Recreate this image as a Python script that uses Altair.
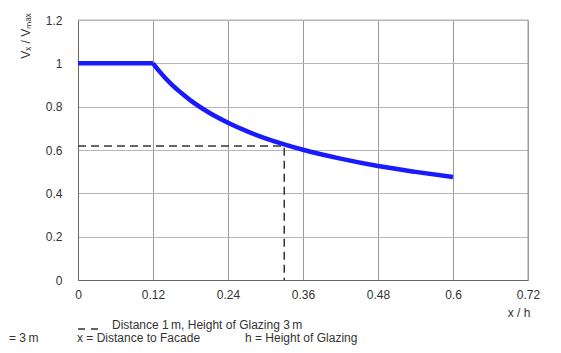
import altair as alt
import pandas as pd

# Flat part of the curve
flat_x = [0.0, 0.12]
flat_y = [1.0, 1.0]

# Decreasing part of the curve
dec_x = [0.12, 0.13, 0.14, 0.15, 0.165, 0.18, 0.21, 0.24, 0.27, 0.30, 0.33, 0.36, 0.42, 0.48, 0.54, 0.60]
dec_y = [1.0, 0.964, 0.931, 0.902, 0.864, 0.829, 0.772, 0.726, 0.687, 0.654, 0.626, 0.601, 0.560, 0.526, 0.499, 0.475]

# Reference (dashed) lines
ref_x = [0.0, 0.33, 0.33]
ref_y = [0.618, 0.618, 0.0]

x_ticks = [0, 0.12, 0.24, 0.36, 0.48, 0.6, 0.72]
y_ticks = [0, 0.2, 0.4, 0.6, 0.8, 1, 1.2]

FONT = "Liberation Sans"
TXT = "#333333"
BLUE = "#1a1aff"

flat = pd.DataFrame({"x": flat_x, "y": flat_y})
dec = pd.DataFrame({"x": dec_x, "y": dec_y})
ref = pd.DataFrame({"x": ref_x, "y": ref_y, "o": range(len(ref_x))})

xscale = alt.Scale(domain=[0, 0.72], nice=False, zero=False)
yscale = alt.Scale(domain=[0, 1.2], nice=False, zero=False)

xaxis = alt.Axis(values=x_ticks, labelExpr="datum.value", title=None, grid=True,
                 gridColor="#9a9a9a", domainColor="#666666", ticks=False,
                 labelPadding=9, labelFont=FONT, labelFontSize=12, labelColor=TXT,
                 labelFlush=False)
yaxis = alt.Axis(values=y_ticks, labelExpr="datum.value", title=None, grid=True,
                 gridColor="#b5b5b5", domainColor="#666666", ticks=False,
                 labelPadding=16, labelFont=FONT, labelFontSize=12, labelColor=TXT,
                 labelFlush=False)

line_flat = alt.Chart(flat).mark_line(color=BLUE, strokeWidth=4.5, strokeCap="butt").encode(
    x=alt.X("x:Q", scale=xscale, axis=xaxis),
    y=alt.Y("y:Q", scale=yscale, axis=yaxis),
    order="x:Q",
)
line_dec = alt.Chart(dec).mark_line(color=BLUE, strokeWidth=4.5, interpolate="monotone",
                                    strokeCap="butt", strokeJoin="round").encode(
    x=alt.X("x:Q", scale=xscale),
    y=alt.Y("y:Q", scale=yscale),
    order="x:Q",
)

dashed = alt.Chart(ref).mark_line(color="#333333", strokeWidth=1.5, strokeDash=[8, 5]).encode(
    x=alt.X("x:Q", scale=xscale),
    y=alt.Y("y:Q", scale=yscale),
    order="o:Q",
)

# top and right frame
frame = alt.Chart(pd.DataFrame({"a": [0]})).mark_rule(color="#9a9a9a", strokeWidth=1).encode(
    x=alt.value(450), y=alt.value(0), y2=alt.value(260)
)
frame_top = alt.Chart(pd.DataFrame({"a": [0]})).mark_rule(color="#b5b5b5", strokeWidth=1).encode(
    x=alt.value(0), x2=alt.value(450), y=alt.value(0)
)

def text(label, x, y, align="left", angle=0, baseline="middle"):
    return alt.Chart(pd.DataFrame({"t": [label]})).mark_text(
        font=FONT, fontSize=12, color=TXT, align=align, baseline=baseline, angle=angle
    ).encode(text="t:N", x=alt.value(x), y=alt.value(y))

ytitle = text("V\u2093 / V\u2098\u2090\u2093", -52, 16, align="center", angle=270)
xtitle = text("x / h", 441, 293, align="center")

legend_dash = alt.Chart(pd.DataFrame({"a": [0]})).mark_rule(
    color="#333333", strokeWidth=1.5, strokeDash=[7, 6]
).encode(x=alt.value(0), x2=alt.value(21), y=alt.value(309))
legend_text = text("Distance 1\u2009m, Height of Glazing 3\u2009m", 34, 305)

bottom1 = text("x = Distance to Facade", -1, 322, baseline="alphabetic")
bottom2 = text("h = Height of Glazing", 167, 322, baseline="alphabetic")
bottom0 = text("= 3\u2009m", -69, 322, align="left", baseline="alphabetic")

chart = alt.layer(
    frame, frame_top, dashed, line_flat, line_dec, ytitle, xtitle, legend_dash, legend_text,
    bottom0, bottom1, bottom2
).properties(
    width=450, height=260,
    autosize=alt.AutoSizeParams(type="none"),
    padding={"left": 70, "top": 12, "right": 25, "bottom": 65},
).configure_view(stroke=None).configure(background="white")

chart.save("out.html", embed_options={"renderer": "svg", "actions": False})
